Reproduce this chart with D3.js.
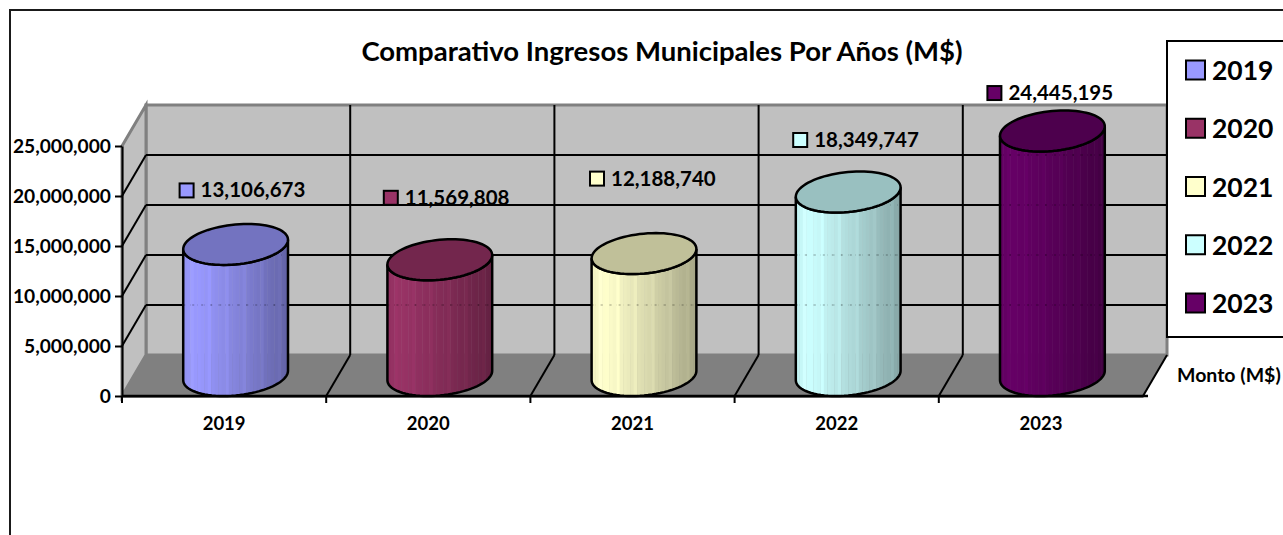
<!DOCTYPE html>
<html>
<head>
<meta charset="utf-8">
<script src="https://cdnjs.cloudflare.com/ajax/libs/d3/7.8.5/d3.min.js"></script>
<style>
html, body { margin: 0; padding: 0; background: #fff; }
svg { display: block; }
text { font-family: Lato, "Open Sans", sans-serif; font-weight: 700; fill: #000; }
.axis text { font-size: 19.2px; }
.axis.cat text { font-size: 18.5px; }
.axis .domain, .axis line { stroke: #000; stroke-width: 2px; }
</style>
</head>
<body>
<div id="chart"></div>
<script>
const years = ["2019", "2020", "2021", "2022", "2023"];
const amounts = [13106673, 11569808, 12188740, 18349747, 24445195];
const colors = ["#9999ff", "#993366", "#ffffcc", "#ccffff", "#660066"];
const yTicks = [0, 5000000, 10000000, 15000000, 20000000, 25000000];

// where excel left the data labels, relative to the column top
const labelShift = [[-56, -54], [-56, -62], [-54, -75], [-55, -52], [-65, -38]];

const width = 1283, height = 535;
const depth = { x: 24, y: -41 };

const svg = d3.select("#chart").append("svg")
    .attr("width", width)
    .attr("height", height);

const x = d3.scaleBand().domain(years).range([122, 1143]);
const y = d3.scaleLinear().domain([0, 25000000]).range([396, 146]);
const fmt = d3.format(",");

// chart frame, runs off the page right and bottom
svg.append("path")
    .attr("d", "M10," + height + "V10H" + width)
    .attr("fill", "none")
    .attr("stroke", "#1a1a1a")
    .attr("stroke-width", 2);

svg.append("text")
    .attr("x", 662)
    .attr("y", 61)
    .attr("text-anchor", "middle")
    .style("font-size", "27.5px")
    .text("Comparativo Ingresos Municipales Por Años (M$)");

// walls
const x0 = x.range()[0], x1 = x.range()[1];
const yBase = y(0), yTop = y(25000000);
const walls = svg.append("g");

walls.append("path")
    .attr("d", d3.line()([[x0 + depth.x, yTop + depth.y], [x1 + depth.x, yTop + depth.y],
        [x1 + depth.x, yBase + depth.y], [x0 + depth.x, yBase + depth.y]]) + "Z")
    .attr("fill", "#c0c0c0")
    .attr("stroke", "#808080")
    .attr("stroke-width", 3);
walls.append("path")
    .attr("d", d3.line()([[x0, yTop], [x0 + depth.x, yTop + depth.y],
        [x0 + depth.x, yBase + depth.y], [x0, yBase]]) + "Z")
    .attr("fill", "#c0c0c0")
    .attr("stroke", "#808080")
    .attr("stroke-width", 3);
walls.append("path")
    .attr("d", d3.line()([[x0, yBase], [x0 + depth.x, yBase + depth.y],
        [x1 + depth.x, yBase + depth.y], [x1, yBase]]) + "Z")
    .attr("fill", "#808080")
    .attr("stroke", "#808080");

const gridVals = yTicks.filter(d => d > 0 && d < 25000000);

walls.selectAll(".grid-side")
    .data(gridVals)
    .enter().append("line")
    .attr("x1", x0).attr("y1", d => y(d))
    .attr("x2", x0 + depth.x).attr("y2", d => y(d) + depth.y)
    .attr("stroke", "#000").attr("stroke-width", 2);

walls.selectAll(".grid-back")
    .data(gridVals)
    .enter().append("line")
    .attr("x1", x0 + depth.x).attr("y1", d => y(d) + depth.y)
    .attr("x2", x1 + depth.x).attr("y2", d => y(d) + depth.y)
    .attr("stroke", "#000").attr("stroke-width", 2);

// category dividers on back wall and floor
const dividers = years.slice(1).map(d => x(d)).concat([x1]);
dividers.forEach(function(px, i) {
    if (i < dividers.length - 1) {
        walls.append("line")
            .attr("x1", px + depth.x).attr("y1", yTop + depth.y)
            .attr("x2", px + depth.x).attr("y2", yBase + depth.y)
            .attr("stroke", "#000").attr("stroke-width", 2);
    }
    walls.append("line")
        .attr("x1", px).attr("y1", yBase)
        .attr("x2", px + depth.x).attr("y2", yBase + depth.y)
        .attr("stroke", "#000").attr("stroke-width", 2);
});

// axes
svg.append("g")
    .attr("class", "axis")
    .attr("transform", "translate(" + x0 + ",0)")
    .call(d3.axisLeft(y).tickValues(yTicks).tickFormat(fmt).tickSize(7).tickSizeOuter(0))
    .call(g => g.selectAll("text").attr("x", -11));

svg.append("g")
    .attr("class", "axis cat")
    .attr("transform", "translate(0," + yBase + ")")
    .call(d3.axisBottom(x).tickSize(0).tickPadding(21));

svg.selectAll(".cat-tick")
    .data([x0].concat(dividers.slice(0, -1)))
    .enter().append("line")
    .attr("x1", d => d).attr("x2", d => d)
    .attr("y1", yBase).attr("y2", yBase + 7)
    .attr("stroke", "#000").attr("stroke-width", 2);

svg.append("line")
    .attr("x1", x0).attr("x2", x1 + 5)
    .attr("y1", yBase).attr("y2", yBase)
    .attr("stroke", "#000").attr("stroke-width", 2.5);

// cylinders
const rx = 51, skew = depth.x / 2, ry = -depth.y / 2;
const tEdge = Math.atan(skew / rx);

function ringPoint(cx, cy, t) {
    return [cx + rx * Math.cos(t) + skew * Math.sin(t), cy - ry * Math.sin(t)];
}

function frontArc(cx, cy, from, to) {
    return d3.range(0, 41).map(i => ringPoint(cx, cy, from + (to - from) * i / 40));
}

const lineGen = d3.line();
const halfW = Math.sqrt(rx * rx + skew * skew);
const defs = svg.append("defs");

years.forEach(function(year, i) {
    const cx = x(year) + x.bandwidth() / 2 + depth.x / 2 - 0.5;
    const cyBase = yBase + depth.y / 2;
    const cyTop = y(amounts[i]) + depth.y / 2;

    const lower = frontArc(cx, cyBase, tEdge, tEdge - Math.PI);
    const upper = frontArc(cx, cyTop, tEdge - Math.PI, tEdge);
    const bodyPath = lineGen(lower.concat(upper)) + "Z";

    const clipId = "clip-" + year;
    defs.append("clipPath").attr("id", clipId).append("path").attr("d", bodyPath);

    const base = d3.color(colors[i]);
    const shade = d3.scaleLinear()
        .domain([0, 0.12, 0.55, 1])
        .range([base.darker(0.12), base, base.darker(0.5), base.darker(1.25)].map(String));

    const g = svg.append("g").attr("class", "column");
    const body = g.append("g").attr("clip-path", "url(#" + clipId + ")");
    const stripW = 3.5;
    const strips = d3.range(cx - halfW, cx + halfW, stripW);

    body.selectAll("rect")
        .data(strips)
        .enter().append("rect")
        .attr("x", d => d)
        .attr("y", cyTop - 30)
        .attr("width", stripW + 0.4)
        .attr("height", cyBase - cyTop + 60)
        .attr("fill", (d, k) => {
            const c = d3.color(shade((d - cx + halfW) / (2 * halfW)));
            return k % 5 === 2 ? c.brighter(0.12) : c;
        });

    // back wall gridlines ghosting through the column
    body.selectAll("line")
        .data(gridVals.filter(v => y(v) + depth.y > cyTop + ry))
        .enter().append("line")
        .attr("x1", cx - halfW).attr("x2", cx + halfW)
        .attr("y1", v => y(v) + depth.y).attr("y2", v => y(v) + depth.y)
        .attr("stroke", "#000").attr("stroke-opacity", 0.18)
        .attr("stroke-width", 2).attr("stroke-dasharray", "2 7");

    g.append("path")
        .attr("d", bodyPath)
        .attr("fill", "none")
        .attr("stroke", "#000")
        .attr("stroke-width", 2.5);

    const ring = d3.range(0, 81).map(k => ringPoint(cx, cyTop, k / 80 * 2 * Math.PI));
    g.append("path")
        .attr("d", lineGen(ring) + "Z")
        .attr("fill", base.darker(0.8))
        .attr("stroke", "#000")
        .attr("stroke-width", 2.5);

    // data label with its legend key
    const lx = cx + labelShift[i][0];
    const ly = cyTop + labelShift[i][1];
    g.append("rect")
        .attr("x", lx).attr("y", ly - 7)
        .attr("width", 14).attr("height", 14)
        .attr("fill", colors[i])
        .attr("stroke", "#000").attr("stroke-width", 2);
    g.append("text")
        .attr("x", lx + 21).attr("y", ly + 7)
        .style("font-size", "20.5px")
        .text(fmt(amounts[i]));
});

// legend
const legend = svg.append("g");
legend.append("rect")
    .attr("x", 1167).attr("y", 41)
    .attr("width", 130).attr("height", 296)
    .attr("fill", "#fff")
    .attr("stroke", "#000").attr("stroke-width", 2);

const legendY = d3.scalePoint().domain(years).range([70, 303]);

legend.selectAll(".key")
    .data(years)
    .enter().append("rect")
    .attr("x", 1186).attr("y", d => legendY(d) - 9.5)
    .attr("width", 19).attr("height", 19)
    .attr("fill", (d, i) => colors[i])
    .attr("stroke", "#000").attr("stroke-width", 2);

legend.selectAll(".name")
    .data(years)
    .enter().append("text")
    .attr("x", 1212).attr("y", d => legendY(d) + 10)
    .style("font-size", "26.5px")
    .text(d => d);

svg.append("text")
    .attr("x", 1177).attr("y", 382)
    .style("font-size", "19.5px")
    .text("Monto (M$)");
</script>
</body>
</html>
